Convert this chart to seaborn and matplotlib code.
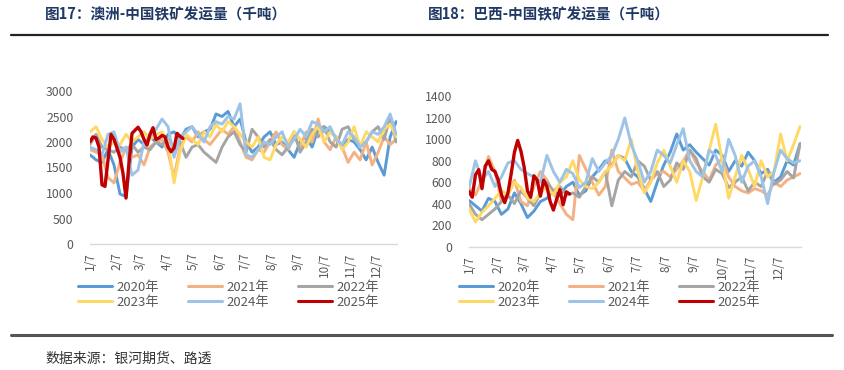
import numpy as np
import pandas as pd
import matplotlib
matplotlib.use("Agg")
import matplotlib.pyplot as plt
from matplotlib.lines import Line2D
import seaborn as sns

sns.set_style("white")
plt.rcParams['font.family'] = ['Noto Sans CJK SC', 'DejaVu Sans']

# ---- data (kt) ----
years = ["2020年", "2021年", "2022年", "2023年", "2024年", "2025年"]
colors = ["#5B9BD5", "#F4B183", "#A5A5A5", "#FFD966", "#9DC3E6", "#C00000"]
month_labels = [f"{m}/7" for m in range(1, 13)]

# Australia -> China, weekly from 1/7
au_2020 = [1750, 1650, 1600, 1850, 1550, 980, 930, 1900, 2050, 1950, 2100, 2000, 1900,
           2150, 2200, 2050, 2250, 2300, 2100, 2200, 2250, 2550, 2500, 2600, 2300, 2450,
           2000, 1800, 1900, 2100, 2200, 1950, 2000, 1850, 1700, 2000, 2100, 1900, 2250,
           2300, 2200, 2100, 1900, 2050, 2000, 1850, 1650, 1900, 1600, 1350, 2100, 2400]
au_2021 = [1850, 1800, 1750, 1300, 1200, 1600, 1900, 1700, 1750, 1550, 1900, 2000, 2050,
           1800, 1300, 1900, 2100, 2000, 2200, 2050, 1950, 2100, 2250, 2150, 2300, 2000,
           1700, 1650, 1850, 1800, 2000, 2200, 1950, 1850, 2100, 1900, 2200, 2000, 2450,
           2000, 1850, 2100, 1900, 1600, 1800, 1650, 2000, 1550, 1800, 2100, 1950, 2050]
au_2022 = [1950, 2150, 1900, 1850, 1800, 1900, 1850, 1950, 1800, 1900, 1850, 2000, 1950,
           2050, 1900, 2000, 1700, 1900, 1950, 1800, 1700, 1600, 1900, 2100, 2200, 1950,
           1800, 2250, 2100, 1900, 2050, 1850, 1750, 1900, 2200, 1800, 2000, 2250, 2100,
           2300, 2000, 1900, 2250, 2300, 2050, 1950, 2000, 2200, 2300, 2050, 2500, 2000]
au_2023 = [2200, 2300, 2050, 1900, 2000, 1950, 2150, 2000, 2100, 2200, 2050, 2150, 2200,
           2000, 1200, 1800, 2150, 2050, 1950, 2200, 2100, 2350, 2200, 2400, 2300, 2150,
           2000, 1900, 2100, 1700, 1650, 1950, 2100, 2000, 2200, 2050, 1900, 2150, 2300,
           2000, 2200, 2100, 1850, 2000, 2300, 1900, 2200, 2100, 2000, 2250, 2350, 2100]
au_2024 = [1900, 1850, 1750, 2150, 2200, 1800, 1900, 1350, 1450, 2000, 2100, 2250, 2450,
           2300, 1700, 2100, 2200, 2300, 2150, 2000, 2300, 2400, 2350, 2500, 2450, 2750,
           1750, 1700, 1850, 2000, 1950, 2100, 2200, 1900, 2050, 2250, 2100, 2400, 2350,
           2200, 2300, 2050, 1950, 2200, 2100, 1900, 2000, 2200, 2150, 2300, 2550, 2150]
# 2025 twice a week
au_2025 = [2006, 2100, 2080, 1900, 1160, 1130, 1650, 2150, 2050, 1880, 1700, 1380, 900,
           1600, 2170, 2230, 2290, 2200, 2050, 1940, 2150, 2280, 2050, 2080, 2130, 2100,
           1900, 1810, 1880, 2170, 2110, 2070]

# Brazil -> China
br_2020 = [430, 380, 330, 450, 420, 300, 350, 500, 400, 270, 330, 420, 450, 520, 480, 560,
           600, 480, 520, 650, 720, 800, 760, 850, 820, 700, 650, 540, 420, 600, 760, 880,
           1050, 900, 950, 880, 820, 760, 900, 850, 700, 800, 750, 880, 800, 680, 720, 600,
           650, 800, 760, 960]
br_2021 = [550, 480, 620, 840, 700, 420, 500, 620, 420, 380, 560, 700, 620, 500, 400, 300,
           250, 850, 720, 600, 480, 560, 900, 700, 640, 580, 600, 520, 620, 680, 700, 650,
           720, 800, 900, 780, 700, 620, 760, 820, 650, 560, 520, 500, 540, 520, 480, 600,
           560, 620, 650, 680]
br_2022 = [400, 300, 250, 300, 350, 420, 480, 400, 520, 450, 380, 500, 600, 520, 560, 480,
           500, 460, 560, 650, 600, 700, 380, 620, 700, 650, 800, 750, 620, 700, 560, 620,
           780, 720, 900, 820, 650, 600, 720, 680, 550, 600, 650, 520, 600, 560, 700, 580,
           620, 700, 640, 960]
br_2023 = [350, 230, 320, 380, 450, 520, 480, 600, 550, 450, 420, 500, 560, 480, 600, 650,
           800, 620, 560, 540, 600, 700, 750, 850, 800, 1000, 700, 500, 600, 780, 900, 750,
           600, 800, 700, 430, 650, 900, 1140, 800, 450, 650, 850, 720, 560, 800, 650, 700,
           1050, 800, 950, 1120]
br_2024 = [550, 800, 620, 700, 560, 650, 780, 800, 720, 680, 650, 600, 850, 700, 600, 720,
           680, 550, 600, 820, 700, 780, 850, 1000, 1200, 950, 800, 600, 700, 900, 850, 780,
           950, 1100, 800, 700, 650, 900, 850, 700, 1000, 850, 600, 750, 800, 650, 400, 700,
           900, 820, 780, 800]
br_2025 = [514, 460, 670, 717, 540, 750, 800, 720, 700, 620, 483, 410, 500, 680, 880, 990,
           890, 740, 520, 460, 660, 620, 470, 620, 560, 420, 340, 440, 530, 390, 510, 490]

start = pd.Timestamp("2021-01-07")


def make_frame(series):
    parts = []
    for yr, vals in zip(years, series):
        freq = "84h" if yr == "2025年" else "7D"
        d = pd.date_range(start, periods=len(vals), freq=freq)
        parts.append(pd.DataFrame({"date": d, "value": vals, "year": yr}))
    return pd.concat(parts, ignore_index=True)


df_au = make_frame([au_2020, au_2021, au_2022, au_2023, au_2024, au_2025])
df_br = make_frame([br_2020, br_2021, br_2022, br_2023, br_2024, br_2025])

fig = plt.figure(figsize=(8.44, 3.70), dpi=100)
ax1 = fig.add_axes([90 / 844, 1 - 244 / 370, 307 / 844, 153 / 370])
ax2 = fig.add_axes([469 / 844, 1 - 246.5 / 370, 332 / 844, 150 / 370])

palette = dict(zip(years, colors))
tick_dates = [pd.Timestamp(f"2021-{m:02d}-07") for m in range(1, 13)]


def style_ax(ax, ymax, ystep):
    ax.set_ylim(0, ymax)
    ax.set_yticks(np.arange(0, ymax + 1, ystep))
    ax.set_xlim(start, start + pd.Timedelta(days=358))
    ax.set_xticks(tick_dates)
    ax.set_xticklabels(month_labels, rotation=90)
    ax.set_xlabel("")
    ax.set_ylabel("")
    for s in ["top", "right", "left"]:
        ax.spines[s].set_visible(False)
    ax.spines["bottom"].set_color("#D9D9D9")
    ax.spines["bottom"].set_linewidth(1.0)
    ax.tick_params(axis="x", length=4, width=1, color="#D9D9D9", labelcolor="#595959",
                   labelsize=8.5, pad=2)
    ax.tick_params(axis="y", length=0, labelcolor="#595959", labelsize=8.8, pad=12)
    ax.grid(False)


for ax, df, ymax, ystep in [(ax1, df_au, 3000, 500), (ax2, df_br, 1400, 200)]:
    sns.lineplot(data=df[df["year"] != "2025年"], x="date", y="value", hue="year",
                 palette=palette, estimator=None, linewidth=2.1, ax=ax, legend=False)
    sns.lineplot(data=df[df["year"] == "2025年"], x="date", y="value", color=colors[5],
                 estimator=None, linewidth=2.4, ax=ax, legend=False)
    style_ax(ax, ymax, ystep)

# legends (row-major order)
order = [0, 3, 1, 4, 2, 5]
handles = [Line2D([], [], color=colors[i], lw=2.2) for i in order]
labels = [years[i] for i in order]
for x0 in [78 / 844, 459 / 844]:
    fig.legend(handles, labels, ncol=3, loc="upper left", bbox_to_anchor=(x0, 1 - 281 / 370),
               frameon=False, fontsize=9.5, handlelength=2.6, handletextpad=0.3,
               columnspacing=2.2, labelspacing=0.15, borderpad=0, borderaxespad=0,
               labelcolor="#595959")

# titles and rules
title_color = "#1F3864"
fig.text(45 / 844, 1 - 14 / 370, "图17：澳洲-中国铁矿发运量（千吨）", fontsize=10.5,
         fontweight="bold", color=title_color, va="center", ha="left")
fig.text(428 / 844, 1 - 14 / 370, "图18：巴西-中国铁矿发运量（千吨）", fontsize=10.5,
         fontweight="bold", color=title_color, va="center", ha="left")
fig.add_artist(Line2D([11 / 844, 828 / 844], [1 - 35 / 370, 1 - 35 / 370],
                      color="#222222", lw=1.6, transform=fig.transFigure))
fig.add_artist(Line2D([11 / 844, 832 / 844], [1 - 335 / 370, 1 - 335 / 370],
                      color="#555555", lw=2.2, transform=fig.transFigure))
fig.text(45 / 844, 1 - 359 / 370, "数据来源：银河期货、路透", fontsize=10,
         color="#333333", va="center", ha="left")

fig.savefig("out.png", dpi=100)
